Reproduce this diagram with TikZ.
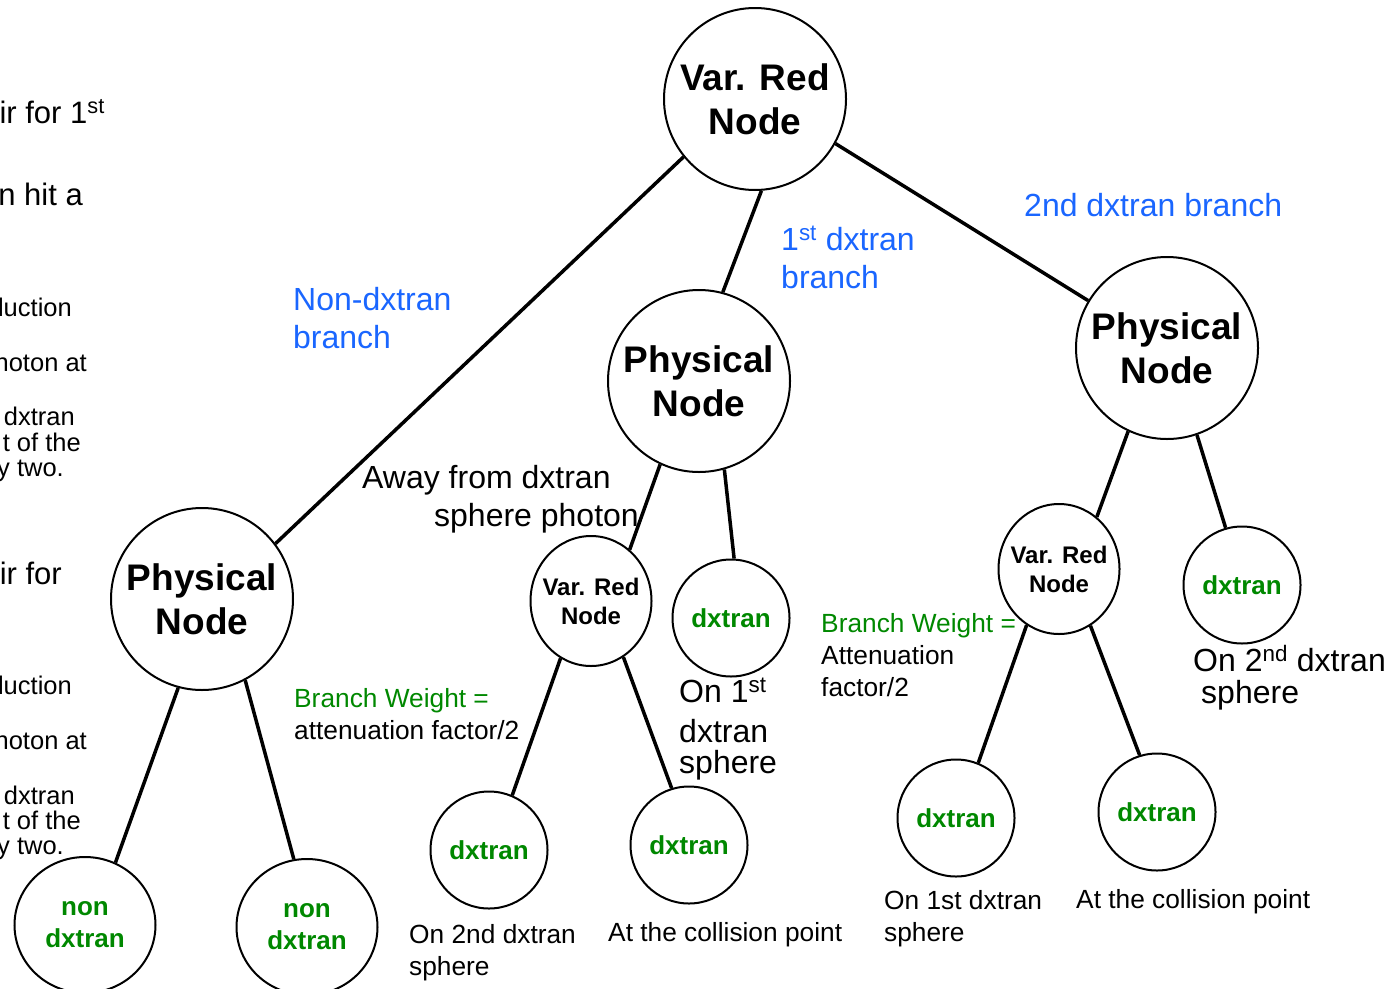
\documentclass[tikz,border=0pt]{standalone}
\usepackage{fontspec}
\setmainfont{Liberation Sans}
\usetikzlibrary{shapes.geometric}
\definecolor{branchblue}{RGB}{26,102,255}
\definecolor{leafgreen}{RGB}{0,136,0}
\newcommand{\pxfont}[2]{\fontsize{#1pt}{#2pt}\selectfont}

\begin{document}
\begin{tikzpicture}[x=1pt,y=-1pt,
  bignode/.style={circle,draw,line width=2pt,minimum size=182pt,inner sep=0pt,
    align=center,font=\pxfont{37}{44}\bfseries},
  vrnode/.style={ellipse,draw,line width=2pt,minimum width=121pt,minimum height=130pt,
    inner xsep=-25pt,inner ysep=-20pt,align=center,font=\pxfont{24}{29}\bfseries},
  leaf/.style={circle,draw,line width=2pt,minimum size=117pt,inner sep=0pt,
    align=center,text=leafgreen,font=\pxfont{26}{32}\bfseries},
  nonleaf/.style={ellipse,draw,line width=2pt,minimum width=141pt,minimum height=136pt,
    inner sep=0pt,align=center,text=leafgreen,font=\pxfont{26}{32}\bfseries},
  link/.style={line width=3.5pt},
  lbl/.style={anchor=base west,inner sep=0pt,font=\pxfont{32}{38}},
  blbl/.style={lbl,text=branchblue},
  slbl/.style={anchor=base west,inner sep=0pt,font=\pxfont{26.3}{32}},
  glbl/.style={slbl,text=leafgreen},
  cutlbl/.style={anchor=base east,inner sep=0pt,font=\pxfont{31}{38}},
  cutsmall/.style={anchor=base east,inner sep=0pt,font=\pxfont{25.5}{30}},
]
\useasboundingbox (0,0) rectangle (1388,988);
\clip (0,0) rectangle (1388,988);

% tree nodes
\node[bignode] (root) at (755,99) {Var. Red\\Node};
\node[bignode] (pl) at (202,599) {Physical\\Node};
\node[bignode] (pm) at (699,381) {Physical\\Node};
\node[bignode] (pr) at (1167,348) {Physical\\Node};
\node[vrnode] (vm) at (591,601) {Var. Red\\Node};
\node[vrnode] (vr) at (1059,569) {Var. Red\\Node};
\node[leaf] (d1) at (731,618) {dxtran};
\node[leaf] (d2) at (1242,585) {dxtran};
\node[leaf] (b1) at (489,850) {dxtran};
\node[leaf] (b2) at (689,845) {dxtran};
\node[leaf] (b3) at (956,818) {dxtran};
\node[leaf] (b4) at (1157,812) {dxtran};
\node[nonleaf] (n1) at (85,925) {non\\dxtran};
\node[nonleaf] (n2) at (307,927) {non\\dxtran};

% branches
\draw[link] (root.219) -- (pl.37);
\draw[link] (root.274) -- (pm.75);
\draw[link] (root.331.5) -- (pr.149.5);
\draw[link] (pm.245) -- (vm.53);
\draw[link] (pm.286) -- (d1.87);
\draw[link] (vm.242) -- (b1.67);
\draw[link] (vm.300) -- (b2.107);
\draw[link] (pr.245) -- (vr.54);
\draw[link] (pr.289) -- (d2.106);
\draw[link] (vr.240) -- (b3.68);
\draw[link] (vr.299) -- (b4.107);
\draw[link] (pl.255) -- (n1.64);
\draw[link] (pl.298) -- (n2.101);

% branch names
\node[blbl] (t2nd) at (1024,216) {2nd dxtran branch};
\node[blbl] (t1sta) at (781,250) {1\textsuperscript{st} dxtran};
\node[blbl] (t1stb) at (781,288) {branch};
\node[blbl] (tnona) at (293,310) {Non-dxtran};
\node[blbl] (tnonb) at (293,348) {branch};

% notes
\node[lbl] (awaya) at (362,488) {Away from dxtran};
\node[lbl] (awayb) at (434,526) {sphere photon};
\node[lbl] (on1a) at (679,702) {On 1\textsuperscript{st}};
\node[lbl] (on1b) at (679,742) {dxtran};
\node[lbl] (on1c) at (679,773) {sphere};
\node[lbl] (on2a) at (1193,671) {On 2\textsuperscript{nd} dxtran};
\node[lbl] (on2b) at (1201,703) {sphere};

\node[glbl] (bwa) at (294,707) {Branch Weight =};
\node[slbl] (bwb) at (294,739) {attenuation factor/2};
\node[glbl] (bwc) at (821,632) {Branch Weight =};
\node[slbl] (bwd) at (821,664) {Attenuation};
\node[slbl] (bwe) at (821,696) {factor/2};

\node[slbl] (s2a) at (409,943) {On 2nd dxtran};
\node[slbl] (s2b) at (409,975) {sphere};
\node[slbl] (cpa) at (608,941) {At the collision point};
\node[slbl] (s1a) at (884,909) {On 1st dxtran};
\node[slbl] (s1b) at (884,941) {sphere};
\node[slbl] (cpb) at (1076,908) {At the collision point};

% text column running off the left edge
\node[cutlbl] (c1) at (105,123) {ir for 1\textsuperscript{st}};
\node[cutlbl] (c2) at (83,205) {n hit a};
\node[cutsmall] (c3) at (72,316) {luction};
\node[cutsmall] (c4) at (87,371) {hoton at};
\node[cutsmall] (c5) at (75,425) {dxtran};
\node[cutsmall] (c6) at (81,451) {t of the};
\node[cutsmall] (c7) at (64,476) {y two.};
\node[cutlbl] (c8) at (62,584) {ir for};
\node[cutsmall] (c9) at (72,694) {luction};
\node[cutsmall] (c10) at (87,749) {hoton at};
\node[cutsmall] (c11) at (75,804) {dxtran};
\node[cutsmall] (c12) at (81,829) {t of the};
\node[cutsmall] (c13) at (64,854) {y two.};
\end{tikzpicture}
\end{document}
